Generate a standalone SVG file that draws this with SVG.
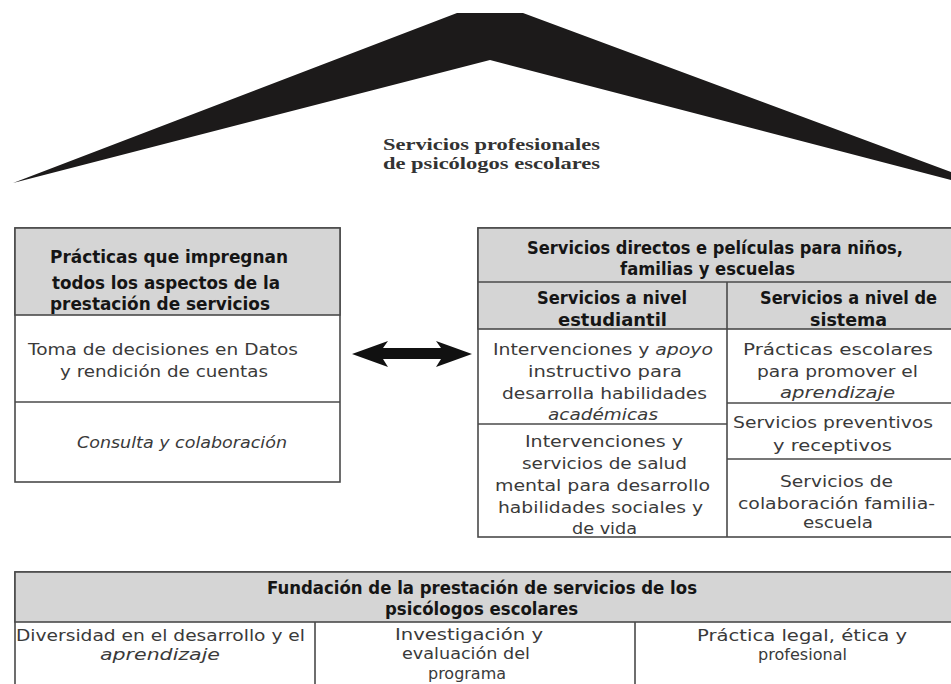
<svg xmlns="http://www.w3.org/2000/svg" width="951" height="684" viewBox="0 0 951 684">
<style>
.box{fill:#fff;stroke:#4a4a4a;stroke-width:1.6}
.hd{fill:#d5d5d5;stroke:#4a4a4a;stroke-width:1.6}
.ln{stroke:#4a4a4a;stroke-width:1.6;fill:none}
.h{font-family:"DejaVu Sans Condensed","DejaVu Sans",sans-serif;font-weight:bold;font-size:17px;fill:#151515}
.b{font-family:"DejaVu Sans","Liberation Sans",sans-serif;font-size:16px;fill:#3a3a3a}
.f{font-size:15px}
.i{font-style:italic}
.s{font-family:"Liberation Serif","DejaVu Serif",serif;font-weight:bold;font-size:17px;fill:#333}
</style>
<rect width="951" height="684" fill="#fff"/>
<g id="roof">
<polygon points="457,13 523,13 951,172 951,180 490,60 13,183" fill="#1c1a1a"/>
<text class="s" x="383" y="150" textLength="217" lengthAdjust="spacingAndGlyphs">Servicios profesionales</text>
<text class="s" x="383" y="169" textLength="217" lengthAdjust="spacingAndGlyphs">de psicólogos escolares</text>
</g>
<g id="practicas">
<rect class="box" x="15" y="228" width="325" height="254"/>
<rect class="hd" x="15" y="228" width="325" height="87"/>
<line class="ln" x1="15" y1="402" x2="340" y2="402"/>
<text class="h" x="50" y="263" textLength="238" lengthAdjust="spacingAndGlyphs">Prácticas que impregnan</text>
<text class="h" x="52" y="289" textLength="228" lengthAdjust="spacingAndGlyphs">todos los aspectos de la</text>
<text class="h" x="50" y="310" textLength="220" lengthAdjust="spacingAndGlyphs">prestación de servicios</text>
<text class="b" x="28" y="355" textLength="270" lengthAdjust="spacingAndGlyphs">Toma de decisiones en Datos</text>
<text class="b" x="60" y="377" textLength="208" lengthAdjust="spacingAndGlyphs">y rendición de cuentas</text>
<text class="b i" x="77" y="448" textLength="210" lengthAdjust="spacingAndGlyphs">Consulta y colaboración</text>
</g>
<g id="connectors">
<polygon points="352,354 388,341 383,348 441,348 436,341 472,354 436,367 441,359 383,359 388,367" fill="#111"/>
</g>
<g id="servicios">
<rect class="box" x="478" y="228" width="482" height="309"/>
<rect class="hd" x="478" y="228" width="482" height="101"/>
<line class="ln" x1="478" y1="282" x2="960" y2="282"/>
<line class="ln" x1="727" y1="282" x2="727" y2="537"/>
<line class="ln" x1="478" y1="424" x2="727" y2="424"/>
<line class="ln" x1="727" y1="403" x2="960" y2="403"/>
<line class="ln" x1="727" y1="459" x2="960" y2="459"/>
<text class="h" x="527" y="254" textLength="376" lengthAdjust="spacingAndGlyphs">Servicios directos e películas para niños,</text>
<text class="h" x="620" y="275" textLength="175" lengthAdjust="spacingAndGlyphs">familias y escuelas</text>
<text class="h" x="537" y="304" textLength="150" lengthAdjust="spacingAndGlyphs">Servicios a nivel</text>
<text class="h" x="558" y="326" textLength="109" lengthAdjust="spacingAndGlyphs">estudiantil</text>
<text class="h" x="760" y="304" textLength="177" lengthAdjust="spacingAndGlyphs">Servicios a nivel de</text>
<text class="h" x="810" y="326" textLength="77" lengthAdjust="spacingAndGlyphs">sistema</text>
<text class="b" x="493" y="355" textLength="220" lengthAdjust="spacingAndGlyphs">Intervenciones y <tspan class="i">apoyo</tspan></text>
<text class="b" x="528" y="377" textLength="154" lengthAdjust="spacingAndGlyphs">instructivo para</text>
<text class="b" x="502" y="399" textLength="205" lengthAdjust="spacingAndGlyphs">desarrolla habilidades</text>
<text class="b i" x="548" y="420" textLength="110" lengthAdjust="spacingAndGlyphs">académicas</text>
<text class="b" x="525" y="447" textLength="158" lengthAdjust="spacingAndGlyphs">Intervenciones y</text>
<text class="b" x="522" y="469" textLength="165" lengthAdjust="spacingAndGlyphs">servicios de salud</text>
<text class="b" x="495" y="491" textLength="215" lengthAdjust="spacingAndGlyphs">mental para desarrollo</text>
<text class="b" x="498" y="513" textLength="205" lengthAdjust="spacingAndGlyphs">habilidades sociales y</text>
<text class="b" x="572" y="534" textLength="65" lengthAdjust="spacingAndGlyphs">de vida</text>
<text class="b" x="743" y="355" textLength="190" lengthAdjust="spacingAndGlyphs">Prácticas escolares</text>
<text class="b" x="757" y="377" textLength="161" lengthAdjust="spacingAndGlyphs">para promover el</text>
<text class="b i" x="780" y="398" textLength="115" lengthAdjust="spacingAndGlyphs">aprendizaje</text>
<text class="b" x="733" y="428" textLength="200" lengthAdjust="spacingAndGlyphs">Servicios preventivos</text>
<text class="b" x="773" y="451" textLength="119" lengthAdjust="spacingAndGlyphs">y receptivos</text>
<text class="b" x="780" y="487" textLength="113" lengthAdjust="spacingAndGlyphs">Servicios de</text>
<text class="b" x="738" y="509" textLength="197" lengthAdjust="spacingAndGlyphs">colaboración familia-</text>
<text class="b" x="803" y="528" textLength="70" lengthAdjust="spacingAndGlyphs">escuela</text>
</g>
<g id="fundacion">
<rect class="box" x="15" y="572" width="945" height="130"/>
<rect class="hd" x="15" y="572" width="945" height="50"/>
<line class="ln" x1="315" y1="622" x2="315" y2="702"/>
<line class="ln" x1="635" y1="622" x2="635" y2="702"/>
<text class="h" x="267" y="594" textLength="430" lengthAdjust="spacingAndGlyphs">Fundación de la prestación de servicios de los</text>
<text class="h" x="385" y="615" textLength="193" lengthAdjust="spacingAndGlyphs">psicólogos escolares</text>
<text class="b f" x="16" y="641" textLength="289" lengthAdjust="spacingAndGlyphs">Diversidad en el desarrollo y el</text>
<text class="b f i" x="100" y="660" textLength="120" lengthAdjust="spacingAndGlyphs">aprendizaje</text>
<text class="b f" x="395" y="640" textLength="148" lengthAdjust="spacingAndGlyphs">Investigación y</text>
<text class="b f" x="402" y="659" textLength="128" lengthAdjust="spacingAndGlyphs">evaluación del</text>
<text class="b f" x="428" y="679" textLength="78" lengthAdjust="spacingAndGlyphs">programa</text>
<text class="b f" x="697" y="641" textLength="210" lengthAdjust="spacingAndGlyphs">Práctica legal, ética y</text>
<text class="b f" x="758" y="660" textLength="89" lengthAdjust="spacingAndGlyphs">profesional</text>
</g>
</svg>
